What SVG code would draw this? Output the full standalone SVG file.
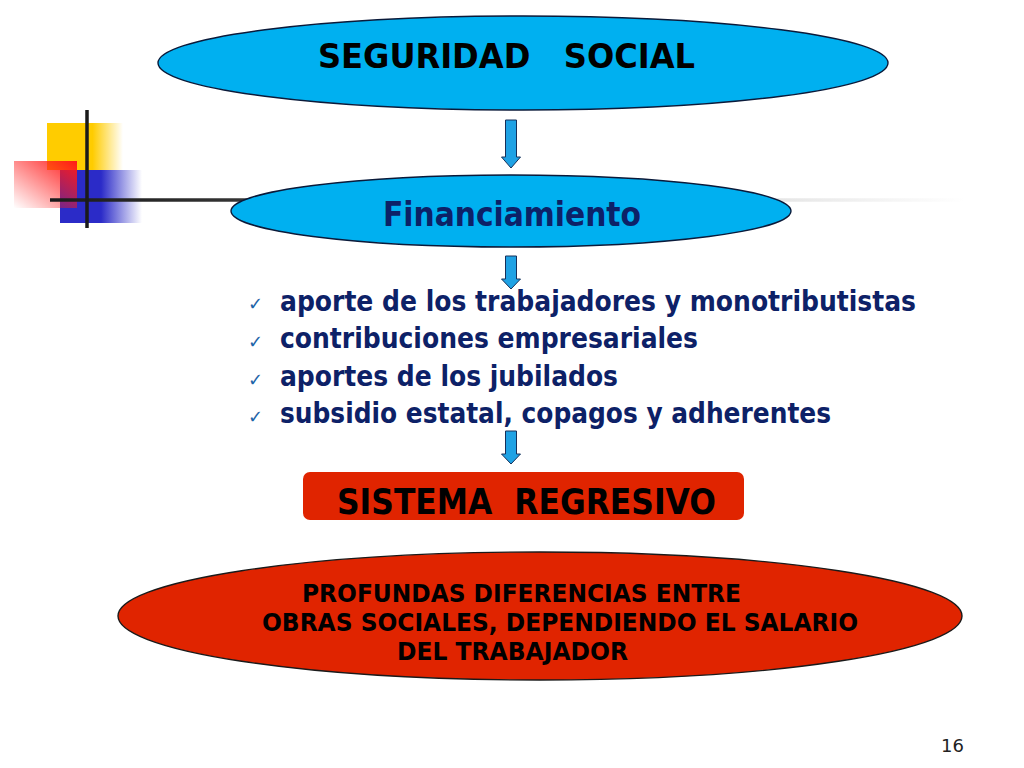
<svg xmlns="http://www.w3.org/2000/svg" width="1024" height="768" viewBox="0 0 1024 768">
<defs>
<linearGradient id="gy" x1="0" y1="0" x2="1" y2="0"><stop offset="0" stop-color="#FFCC00"/><stop offset="0.6" stop-color="#FFCC00"/><stop offset="1" stop-color="#FFCC00" stop-opacity="0"/></linearGradient>
<linearGradient id="gb" x1="0" y1="0" x2="1" y2="0"><stop offset="0" stop-color="#2B2BC8"/><stop offset="0.5" stop-color="#2B2BC8"/><stop offset="1" stop-color="#2B2BC8" stop-opacity="0"/></linearGradient>
<linearGradient id="gr" x1="1" y1="0" x2="0" y2="1"><stop offset="0" stop-color="#FF1A1A"/><stop offset="1" stop-color="#FF1A1A" stop-opacity="0"/></linearGradient>
<linearGradient id="gl" gradientUnits="userSpaceOnUse" x1="50" y1="0" x2="965" y2="0"><stop offset="0" stop-color="#1a1a1a"/><stop offset="0.2" stop-color="#333"/><stop offset="0.8" stop-color="#e6e6e6"/><stop offset="1" stop-color="#ffffff"/></linearGradient>
</defs>
<style>
.eb{fill:#00B0F0;stroke:#0a1a3a;stroke-width:1.4}
.er{fill:#E02400;stroke:#1a1a1a;stroke-width:1.4}
.arrow{fill:#1FA2E4;stroke:#16305a;stroke-width:1}
.t{font-family:'DejaVu Sans Condensed','DejaVu Sans',sans-serif;font-stretch:condensed;font-weight:bold}
.bl{fill:#0D2167;font-size:29px}
.ck{fill:#1E64A8;font-family:'DejaVu Sans',sans-serif;font-size:18px}
</style>
<rect width="1024" height="768" fill="#fff"/>
<g id="decor">
<rect x="47" y="123" width="76" height="47" fill="url(#gy)"/>
<rect x="60" y="170" width="82" height="53" fill="url(#gb)"/>
<rect x="14" y="161" width="63" height="47" fill="url(#gr)"/>
<line x1="50" y1="200" x2="965" y2="200" stroke="url(#gl)" stroke-width="3.5"/>
<line x1="87" y1="110" x2="87" y2="228" stroke="#1a1a1a" stroke-width="3.5"/>
</g>
<g id="connectors">
<path class="arrow" d="M505.5,120 H516.5 V157 H520.5 L511,168 L501.5,157 H505.5 Z"/>
<path class="arrow" d="M505.5,256 H516.5 V279 H520.5 L511,289 L501.5,279 H505.5 Z"/>
<path class="arrow" d="M505.5,431 H516.5 V454 H520.5 L511,464 L501.5,454 H505.5 Z"/>
</g>
<g id="seguridad">
<ellipse class="eb" cx="523" cy="63" rx="365" ry="47"/>
<text class="t" x="318" y="68" font-size="34" fill="#000" textLength="377" lengthAdjust="spacingAndGlyphs" xml:space="preserve">SEGURIDAD   SOCIAL</text>
</g>
<g id="financiamiento">
<ellipse class="eb" cx="511" cy="211" rx="280" ry="36"/>
<text class="t" x="383" y="226" font-size="34" fill="#0D2167" textLength="258" lengthAdjust="spacingAndGlyphs">Financiamiento</text>
</g>
<g id="lista">
<text class="ck" x="248" y="310">✓</text>
<text class="ck" x="248" y="348">✓</text>
<text class="ck" x="248" y="386">✓</text>
<text class="ck" x="248" y="423">✓</text>
<text class="t bl" x="280" y="311" textLength="636" lengthAdjust="spacingAndGlyphs">aporte de los trabajadores y monotributistas</text>
<text class="t bl" x="280" y="348" textLength="418" lengthAdjust="spacingAndGlyphs">contribuciones empresariales</text>
<text class="t bl" x="280" y="386" textLength="338" lengthAdjust="spacingAndGlyphs">aportes de los jubilados</text>
<text class="t bl" x="280" y="423" textLength="551" lengthAdjust="spacingAndGlyphs">subsidio estatal, copagos y adherentes</text>
</g>
<g id="sistema">
<rect x="303" y="472" width="441" height="48" rx="7" fill="#E02400"/>
<text class="t" x="337" y="514" font-size="35" fill="#000" textLength="379" lengthAdjust="spacingAndGlyphs" xml:space="preserve">SISTEMA  REGRESIVO</text>
</g>
<g id="diferencias">
<ellipse class="er" cx="540" cy="616" rx="422" ry="64"/>
<text class="t" x="302" y="602" font-size="25" fill="#000" textLength="439" lengthAdjust="spacingAndGlyphs">PROFUNDAS DIFERENCIAS ENTRE</text>
<text class="t" x="262" y="631" font-size="25" fill="#000" textLength="596" lengthAdjust="spacingAndGlyphs">OBRAS SOCIALES, DEPENDIENDO EL SALARIO</text>
<text class="t" x="397" y="660" font-size="25" fill="#000" textLength="231" lengthAdjust="spacingAndGlyphs">DEL TRABAJADOR</text>
</g>
<text x="941" y="752" font-family="'DejaVu Sans',sans-serif" font-size="18" fill="#222">16</text>
</svg>
